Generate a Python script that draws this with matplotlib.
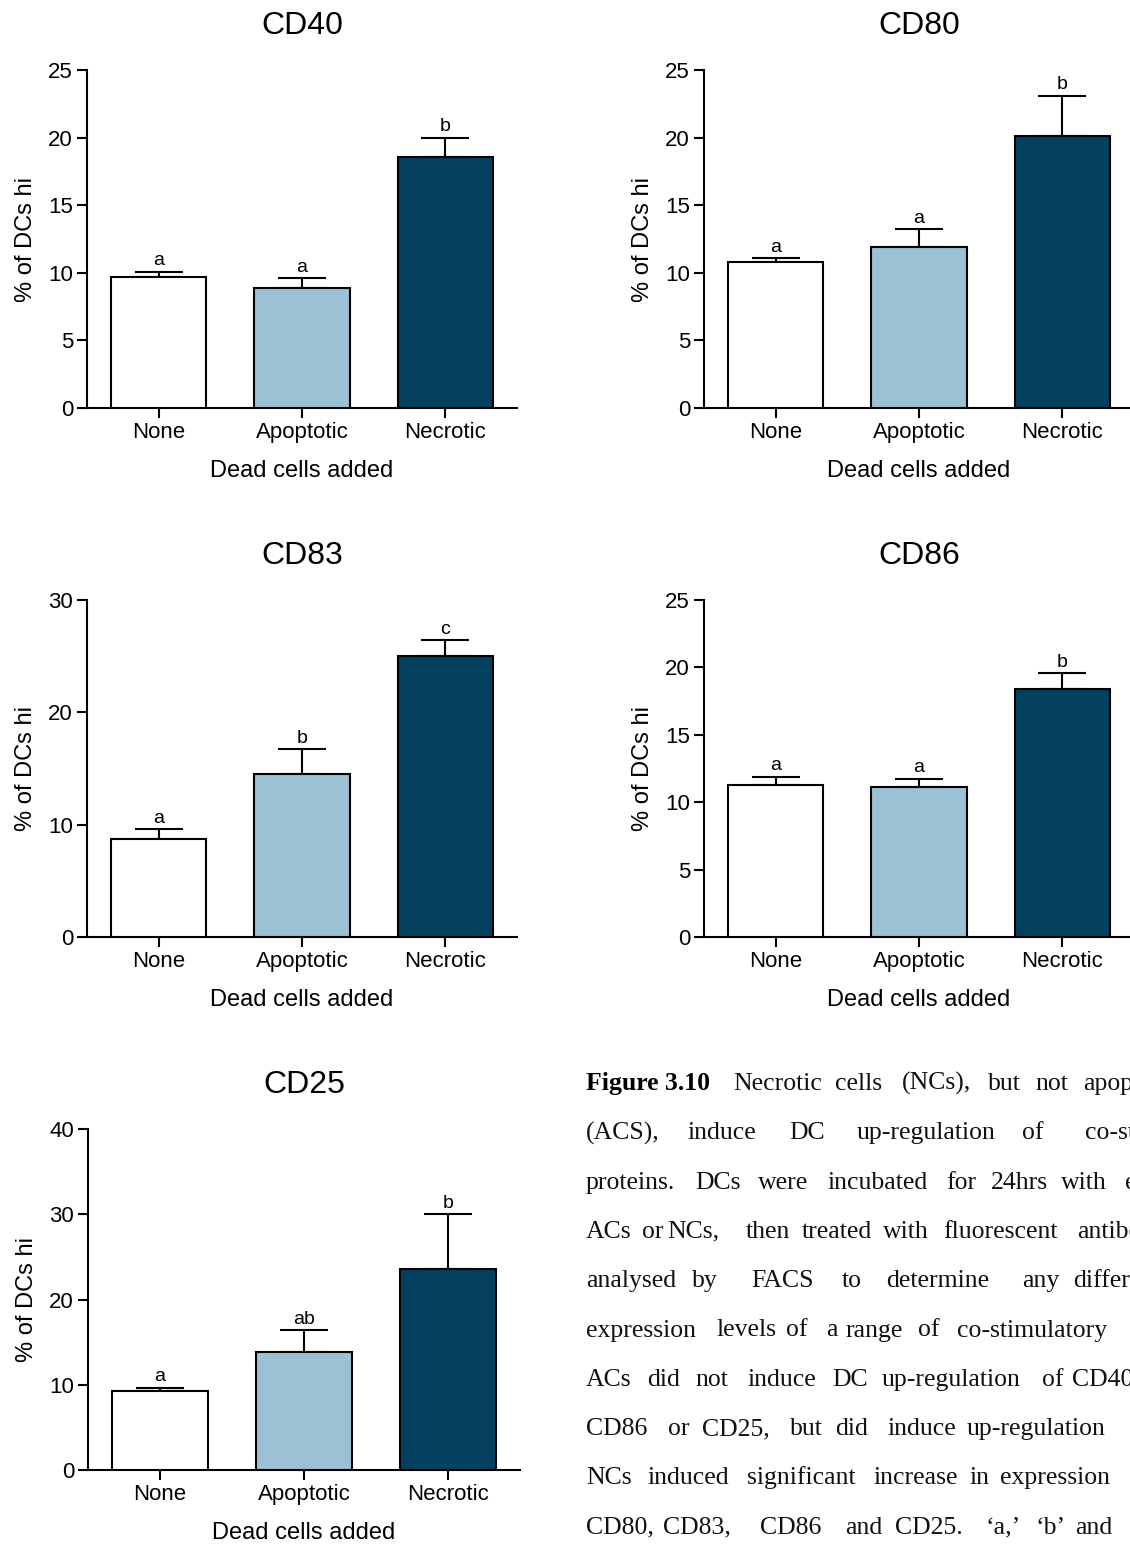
import matplotlib.pyplot as plt
import numpy as np

plt.rcParams['font.family'] = ['Liberation Sans', 'DejaVu Sans']

groups = ['None', 'Apoptotic', 'Necrotic']
bar_colors = ['white', '#9bc1d5', '#03405f']

cd40_mean = [9.7, 8.9, 18.6]
cd40_err = [0.38, 0.72, 1.4]
cd40_letters = ['a', 'a', 'b']

cd80_mean = [10.8, 11.9, 20.1]
cd80_err = [0.27, 1.35, 3.0]
cd80_letters = ['a', 'a', 'b']

cd83_mean = [8.75, 14.5, 25.0]
cd83_err = [0.88, 2.2, 1.4]
cd83_letters = ['a', 'b', 'c']

cd86_mean = [11.3, 11.15, 18.4]
cd86_err = [0.6, 0.6, 1.17]
cd86_letters = ['a', 'a', 'b']

cd25_mean = [9.3, 13.9, 23.6]
cd25_err = [0.35, 2.5, 6.45]
cd25_letters = ['a', 'ab', 'b']

W, H = 1130, 1544
fig = plt.figure(figsize=(W / 100, H / 100), dpi=100)


def add_ax(l, t, r, b):
    # pixel box -> figure fraction
    return fig.add_axes([l / W, 1 - b / H, (r - l) / W, (b - t) / H])


def draw(ax, title, mean, err, letters, ymax, step):
    x = np.arange(len(groups))
    ax.bar(x, mean, width=0.665, color=bar_colors, edgecolor='black',
           linewidth=1.5, zorder=3)
    ax.errorbar(x, mean, yerr=[np.zeros(len(err)), err], fmt='none',
                ecolor='black', elinewidth=1.5, capsize=17, capthick=1.5,
                zorder=2)
    for xi, m, e, lab in zip(x, mean, err, letters):
        ax.annotate(lab, (xi, m + e), xytext=(0, 4.5), textcoords='offset points',
                    ha='center', va='baseline', fontsize=14)
    ax.set_xlim(-0.5, 2.5)
    ax.set_ylim(0, ymax)
    ax.set_yticks(np.arange(0, ymax + 1, step))
    ax.set_xticks(x, groups)
    for s in ['top', 'right']:
        ax.spines[s].set_visible(False)
    for s in ['left', 'bottom']:
        ax.spines[s].set_linewidth(1.5)
    ax.tick_params(length=7, width=1.5, labelsize=16, pad=3)
    ax.set_xlabel('Dead cells added', fontsize=17, labelpad=12.5)
    ax.set_ylabel('% of DCs hi', fontsize=17, labelpad=8)
    ax.set_title(title, fontsize=23, pad=26)


draw(add_ax(87, 70, 517, 408), 'CD40', cd40_mean, cd40_err, cd40_letters, 25, 5)
draw(add_ax(704, 70, 1134, 408), 'CD80', cd80_mean, cd80_err, cd80_letters, 25, 5)
draw(add_ax(87, 600, 517, 937), 'CD83', cd83_mean, cd83_err, cd83_letters, 30, 10)
draw(add_ax(704, 600, 1134, 937), 'CD86', cd86_mean, cd86_err, cd86_letters, 25, 5)
draw(add_ax(88, 1129, 520, 1470), 'CD25', cd25_mean, cd25_err, cd25_letters, 40, 10)

# caption, justified lines placed word by word
caption = [
    [(733, 'Necrotic'), (835, 'cells'), (902, '(NCs),'), (988, 'but'),
     (1035, 'not'), (1083, 'apoptotic')],
    [(586, '(ACS),'), (687, 'induce'), (789, 'DC'), (857, 'up-regulation'),
     (1022, 'of'), (1085, 'co-stimulatory')],
    [(586, 'proteins.'), (695, 'DCs'), (758, 'were'), (828, 'incubated'),
     (946, 'for'), (991, '24hrs'), (1061, 'with'), (1125, 'either')],
    [(586, 'ACs'), (642, 'or'), (667, 'NCs,'), (746, 'then'), (802, 'treated'),
     (883, 'with'), (943, 'fluorescent'), (1077, 'antibodies')],
    [(586, 'analysed'), (692, 'by'), (751, 'FACS'), (842, 'to'),
     (886, 'determine'), (1022, 'any'), (1073, 'differences')],
    [(586, 'expression'), (717, 'levels'), (786, 'of'), (826, 'a'),
     (845, 'range'), (918, 'of'), (957, 'co-stimulatory')],
    [(586, 'ACs'), (647, 'did'), (695, 'not'), (747, 'induce'), (832, 'DC'),
     (882, 'up-regulation'), (1042, 'of'), (1072, 'CD40,')],
    [(586, 'CD86'), (668, 'or'), (702, 'CD25,'), (790, 'but'), (835, 'did'),
     (887, 'induce'), (967, 'up-regulation')],
    [(586, 'NCs'), (648, 'induced'), (747, 'significant'), (873, 'increase'),
     (970, 'in'), (1000, 'expression')],
    [(586, 'CD80,'), (663, 'CD83,'), (760, 'CD86'), (845, 'and'),
     (895, 'CD25.'), (985, '\u2018a,\u2019'), (1035, '\u2018b\u2019'), (1075, 'and')],
]
serif = ['Liberation Serif', 'DejaVu Serif']
fs = 18.5
fig.text(586 / W, 1 - 1090 / H, 'Figure 3.10', fontsize=fs, family=serif,
         weight='bold', va='baseline', ha='left')
for i, line in enumerate(caption):
    y = 1090 + i * 49.3
    for xp, word in line:
        fig.text(xp / W, 1 - y / H, word, fontsize=fs, family=serif,
                 va='baseline', ha='left', color='#111111')

fig.savefig('out.png', dpi=100)
